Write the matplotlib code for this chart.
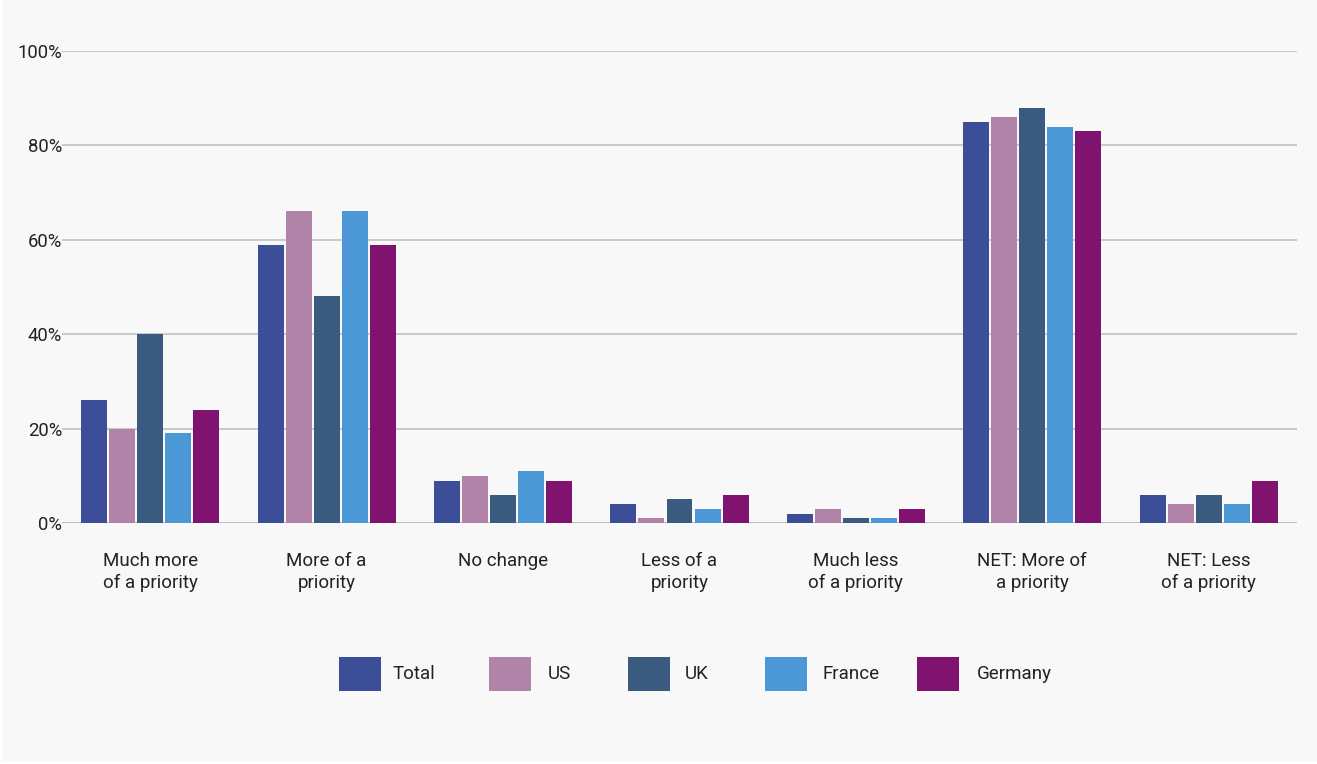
import matplotlib
matplotlib.use("Agg")
import matplotlib.pyplot as plt
from matplotlib.patches import Rectangle
import numpy as np

categories = [
    "Much more\nof a priority",
    "More of a\npriority",
    "No change",
    "Less of a\npriority",
    "Much less\nof a priority",
    "NET: More of\na priority",
    "NET: Less\nof a priority",
]
series_names = ["Total", "US", "UK", "France", "Germany"]
total = [26, 59, 9, 4, 2, 85, 6]
us = [20, 66, 10, 1, 3, 86, 4]
uk = [40, 48, 6, 5, 1, 88, 6]
france = [19, 66, 11, 3, 1, 84, 4]
germany = [24, 59, 9, 6, 3, 83, 9]
colors = ["#3c4e98", "#b283a8", "#3a5a80", "#4c97d6", "#80136f"]
y_ticks = [0, 20, 40, 60, 80, 100]
y_tick_labels = ["0%", "20%", "40%", "60%", "80%", "100%"]

series_values = [total, us, uk, france, germany]

plt.rcParams["font.family"] = ["Roboto", "DejaVu Sans"]

W, H = 1317, 764
fig = plt.figure(figsize=(W / 100, H / 100), dpi=100)
fig.patch.set_facecolor("white")
# light panel behind everything, leaving a thin white rim on left/bottom
fig.patches.append(Rectangle((2 / W, 3 / H), 1 - 2 / W, 1 - 3 / H,
                             transform=fig.transFigure, facecolor="#f8f8f8",
                             edgecolor="none", zorder=-10))

left, right = 62 / W, 1297 / W
bottom, top = (H - 523) / H, (H - 51) / H
ax = fig.add_axes([left, bottom, right - left, top - bottom])
ax.set_facecolor("none")

x = np.arange(len(categories))
slot = 0.159
bar_w = 0.147
for i, (name, vals, c) in enumerate(zip(series_names, series_values, colors)):
    offs = (i - 2) * slot
    ax.bar(x + offs, vals, width=bar_w, color=c, label=name, zorder=3,
           linewidth=0)

ax.set_xlim(-0.5, len(categories) - 0.5)
ax.set_ylim(0, 100)
ax.set_yticks(y_ticks)
ax.set_yticklabels(y_tick_labels, fontsize=13.3, color="#222222")
for t in y_ticks:
    ax.axhline(t, color="#bdbdbd", linewidth=1.1 if t else 1.4, zorder=1)
ax.tick_params(axis="y", length=0, pad=0)
for lbl in ax.get_yticklabels():
    lbl.set_verticalalignment("center_baseline")

ax.set_xticks(x)
ax.set_xticklabels(categories, fontsize=13.5, color="#222222",
                   linespacing=1.25)
ax.tick_params(axis="x", length=0, pad=21)
for s in ax.spines.values():
    s.set_visible(False)

# legend row built from the series
sq_w, sq_h = 42, 34
sq_x = [339, 489, 628, 765, 917]
txt_x = [393, 548, 685, 823, 977]
ly = 674
for name, c, sx, tx in zip(series_names, colors, sq_x, txt_x):
    fig.patches.append(Rectangle((sx / W, (H - ly - sq_h / 2) / H), sq_w / W,
                                 sq_h / H, transform=fig.transFigure,
                                 facecolor=c, edgecolor="none"))
    fig.text(tx / W, (H - ly) / H, name, fontsize=13.5,
             color="#222222", va="center", ha="left")

fig.savefig("out.png", dpi=100, facecolor=fig.get_facecolor())
